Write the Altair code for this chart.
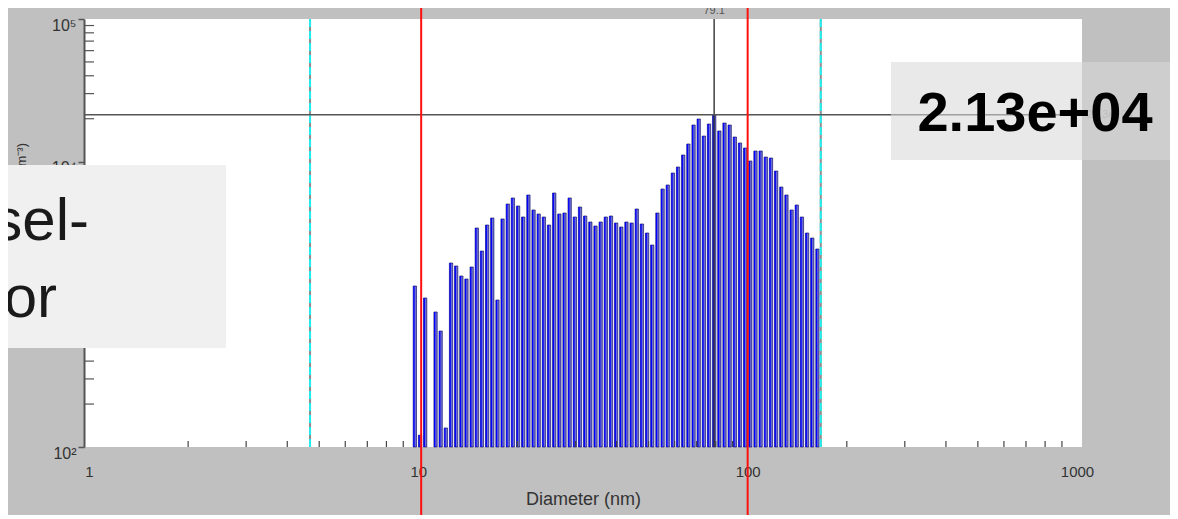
import altair as alt
import pandas as pd

# ---------------- data ----------------
diameters = [9.76, 10.12, 10.49, 11.28, 11.69, 12.12, 12.57, 13.03, 13.51, 14.00,
             14.52, 15.05, 15.60, 16.18, 16.77, 17.39, 18.02, 18.69, 19.37, 20.09,
             20.82, 21.59, 22.38, 23.20, 24.06, 24.94, 25.86, 26.81, 27.79, 28.81,
             29.87, 30.97, 32.11, 33.29, 34.51, 35.78, 37.09, 38.46, 39.87, 41.33,
             42.85, 44.43, 46.06, 47.75, 49.51, 51.32, 53.21, 55.17, 57.19, 59.29,
             61.47, 63.73, 66.07, 68.50, 71.02, 73.63, 76.33, 79.14, 82.05, 85.06,
             88.19, 91.43, 94.79, 98.27, 101.88, 105.62, 109.50, 113.53, 117.70, 122.02,
             126.51, 131.16, 135.98, 140.97, 146.15, 151.52, 157.09, 162.86]
counts = [1345, 121, 1108, 884, 650, 136, 1949, 1857, 1580, 1505,
          1827, 3429, 2365, 3599, 4030, 1072, 3966, 5050, 5565, 4890,
          4095, 5840, 4585, 4298, 4095, 3599, 6031, 4298, 4368, 5565,
          4095, 4812, 4161, 3777, 3541, 3777, 4095, 4161, 3717, 3485,
          3777, 3717, 4659, 3657, 3163, 2605, 4368, 6433, 6862, 8330,
          9175, 11135, 13300, 18070, 19910, 15130, 18370, 21300, 16410, 18660,
          18070, 14890, 13520, 12470, 10110, 11880, 11880, 10780, 10610, 8600,
          6645, 5840, 4585, 4970, 4095, 3163, 2917, 2443]

x_tick_values = [1, 10, 100, 1000]
y_tick_values = [100, 1000, 10000, 100000]
minor_multipliers = [2, 3, 4, 5, 6, 7, 8, 9]
x_minor_decades = [1, 10, 100]
y_minor_decades = [100, 1000, 10000]
red_markers = [10.2, 100.0]
cyan_markers = [4.69, 166.7]
peak_diameter = [79.1]
peak_value = [21300]
peak_value_text = "2.13e+04"
x_title = "Diameter (nm)"
y_title = "Concentration (cm⁻³)"
box_lines = ["sel-", "or"]

# ---------------- layout ----------------
W, H = 998, 428
PAD_L, PAD_T = 76, 11
TOTAL_W, TOTAL_H = 1162, 507
PAD_R = TOTAL_W - PAD_L - W
PAD_B = TOTAL_H - PAD_T - H
FONT = "Liberation Sans"

xs = alt.Scale(type="log", domain=[1, 1000], nice=False)
ys = alt.Scale(type="log", domain=[100, 100000], nice=False)

bars_df = pd.DataFrame({"d": diameters, "v": counts})
xminor_df = pd.DataFrame({"d": [m * dec for dec in x_minor_decades for m in minor_multipliers]})
yminor_df = pd.DataFrame({"v": [m * dec for dec in y_minor_decades for m in minor_multipliers]})
red_df = pd.DataFrame({"d": red_markers})
cyan_df = pd.DataFrame({"d": cyan_markers})
peakx_df = pd.DataFrame({"d": peak_diameter, "label": [str(p) for p in peak_diameter]})
peaky_df = pd.DataFrame({"v": peak_value, "label": [peak_value_text]})

x_axis = alt.Axis(values=x_tick_values, labelExpr="format(datum.value, 'd')",
                  ticks=False, domain=False, grid=False, labelFlush=False,
                  labelFont=FONT, labelFontSize=15, labelColor="#333333", labelPadding=17,
                  title=x_title, titleFont=FONT, titleFontSize=18, titleFontWeight="normal",
                  titleColor="#333333", titlePadding=11)
y_axis = alt.Axis(values=y_tick_values,
                  labelExpr="'10' + ['⁰','¹','²','³','⁴','⁵'][round(log(datum.value)/LN10)]",
                  ticks=True, tickSize=6, tickColor="#555555", tickWidth=1.5,
                  domain=True, domainColor="#555555", domainWidth=2, grid=False,
                  labelFlush=False, labelFont=FONT, labelFontSize=16, labelColor="#333333",
                  labelPadding=2, labelBaseline="top", labelOffset=-2, title=None)

bars = alt.Chart(bars_df).mark_bar(size=3.3, fill="#6c6cd2", stroke="#00005a", strokeWidth=0.6).encode(
    x=alt.X("d:Q", scale=xs, axis=x_axis),
    y=alt.Y("v:Q", scale=ys, axis=y_axis),
    y2=alt.datum(100),
)
stripes = alt.Chart(bars_df).mark_bar(size=1.3, xOffset=-0.9, color="#0000ff").encode(
    x=alt.X("d:Q", scale=xs), y=alt.Y("v:Q", scale=ys), y2=alt.datum(100),
)
xminor = alt.Chart(xminor_df).mark_rule(color="#444444", strokeWidth=1.2).encode(
    x=alt.X("d:Q", scale=xs), y=alt.value(H - 6), y2=alt.value(H),
)
yminor = alt.Chart(yminor_df).mark_rule(color="#555555", strokeWidth=1.2).encode(
    y=alt.Y("v:Q", scale=ys), x=alt.value(0), x2=alt.value(10),
)
cyan_base = alt.Chart(cyan_df).mark_rule(color="#8c8c8c", strokeWidth=2).encode(
    x=alt.X("d:Q", scale=xs))
cyan_dash = alt.Chart(cyan_df).mark_rule(color="#22eeee", strokeWidth=2, strokeDash=[8, 4]).encode(
    x=alt.X("d:Q", scale=xs))
cross_v = alt.Chart(peakx_df).mark_rule(color="#333333", strokeWidth=1.4).encode(
    x=alt.X("d:Q", scale=xs))
cross_h = alt.Chart(peaky_df).mark_rule(color="#555555", strokeWidth=1.4).encode(
    y=alt.Y("v:Q", scale=ys), x=alt.value(0), x2=alt.value(W + 1))
red = alt.Chart(red_df).mark_rule(color="#ff1010", strokeWidth=2).encode(
    x=alt.X("d:Q", scale=xs), y=alt.value(-PAD_T), y2=alt.value(H + PAD_B))
peak_lbl = alt.Chart(peakx_df).mark_text(font=FONT, fontSize=11, color="#555555", baseline="bottom").encode(
    x=alt.X("d:Q", scale=xs), y=alt.value(-3), text="label:N")
small_val = alt.Chart(peaky_df).mark_text(font=FONT, fontSize=11, color="#9a9a9a", align="left",
                                          baseline="middle").encode(
    y=alt.Y("v:Q", scale=ys), x=alt.value(W + 5), text="label:N")
ytitle = alt.Chart(pd.DataFrame({"t": [y_title]})).mark_text(
    font=FONT, fontSize=13, color="#333333", angle=270, align="right", baseline="middle").encode(
    x=alt.value(-62), y=alt.value(124), text="t:N")

left_box = alt.Chart(pd.DataFrame({"k": [0]})).mark_rect(fill="#f0f0f0").encode(
    x=alt.value(-PAD_L), x2=alt.value(142), y=alt.value(146), y2=alt.value(329))
left_txt1 = alt.Chart(pd.DataFrame({"t": [box_lines[0]]})).mark_text(
    font=FONT, fontSize=60, color="#1a1a1a", align="right", baseline="alphabetic").encode(
    x=alt.value(5), y=alt.value(221), text="t:N")
left_txt2 = alt.Chart(pd.DataFrame({"t": [box_lines[1]]})).mark_text(
    font=FONT, fontSize=60, color="#1a1a1a", align="right", baseline="alphabetic").encode(
    x=alt.value(-27), y=alt.value(298), text="t:N")
right_box = alt.Chart(pd.DataFrame({"k": [0]})).mark_rect(fill="#d8d8d8", opacity=0.57).encode(
    x=alt.value(807), x2=alt.value(W + PAD_R), y=alt.value(43), y2=alt.value(141))
right_txt = alt.Chart(peaky_df).mark_text(
    font=FONT, fontSize=56, fontWeight="bold", color="#000000", align="center", baseline="alphabetic").encode(
    x=alt.value(951), y=alt.value(112), text="label:N")

chart = alt.layer(
    bars, stripes, xminor, yminor, cyan_base, cyan_dash, cross_v, cross_h, red,
    peak_lbl, small_val, ytitle, left_box, left_txt1, left_txt2, right_box, right_txt,
).properties(
    width=W, height=H,
    autosize=alt.AutoSizeParams(type="none"),
    padding={"left": PAD_L, "top": PAD_T, "right": PAD_R, "bottom": PAD_B},
    background="#c0c0c0",
).configure_view(fill="white", stroke=None)

chart.save("out.html", embed_options={"renderer": "svg", "actions": False})
